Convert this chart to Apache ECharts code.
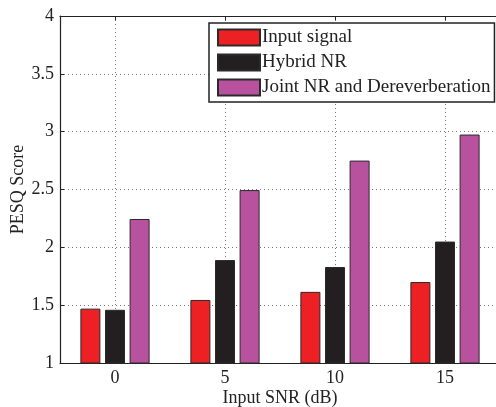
<!DOCTYPE html>
<html>
<head>
<meta charset="utf-8">
<script src="https://cdn.jsdelivr.net/npm/echarts@6/dist/echarts.min.js"></script>
<style>html,body{margin:0;padding:0;background:#fff}#c{width:496px;height:407px}</style>
</head>
<body>
<div id="c"></div>
<script>
const categories = ['0', '5', '10', '15'];
const seriesNames = ['Input signal', 'Hybrid NR', 'Joint NR and Dereverberation'];
const inputSignal = [1.47, 1.545, 1.615, 1.70];
const hybridNR = [1.46, 1.89, 1.83, 2.05];
const jointNRDereverb = [2.245, 2.495, 2.75, 2.975];
const yTicks = [1, 1.5, 2, 2.5, 3, 3.5, 4];

const FONT = 'Liberation Serif';
const colors = ['#ED2024', '#231F20', '#B8529E'];
const values = [inputSignal, hybridNR, jointNRDereverb];

const chart = echarts.init(document.getElementById('c'), null, {renderer: 'canvas'});
chart.setOption({
  animation: false,
  backgroundColor: '#fff',
  textStyle: {fontFamily: FONT},
  grid: {left: 60, top: 16, width: 440, height: 347, containLabel: false, outerBoundsMode: 'none'},
  legend: {
    orient: 'vertical',
    left: 209, top: 23,
    icon: 'rect',
    itemWidth: 42, itemHeight: 16, itemGap: 6,
    padding: [5, 4, 5, 8],
    borderColor: '#222', borderWidth: 1.5,
    backgroundColor: '#fff',
    textStyle: {fontFamily: FONT, fontSize: 19, color: '#222', padding: [0, 0, 0, -3]},
    data: seriesNames
  },
  xAxis: [{
    type: 'category',
    data: categories,
    position: 'bottom',
    axisLine: {show: true, lineStyle: {color: '#222', width: 1.2}},
    axisTick: {show: true, inside: true, alignWithLabel: true, length: 4, lineStyle: {color: '#222'}},
    axisLabel: {fontFamily: FONT, fontSize: 18, color: '#222', margin: 6},
    splitLine: {show: true, alignWithLabel: true, lineStyle: {color: '#777', type: [1, 3], width: 1}},
    name: 'Input SNR (dB)',
    nameLocation: 'middle',
    nameMoveOverlap: false,
    nameGap: 26,
    nameTextStyle: {fontFamily: FONT, fontSize: 18, color: '#222'}
  }, {
    type: 'category',
    data: categories,
    position: 'top',
    axisLine: {show: true, lineStyle: {color: '#222', width: 1.2}},
    axisTick: {show: true, inside: true, alignWithLabel: true, length: 4, lineStyle: {color: '#222'}},
    axisLabel: {show: false},
    splitLine: {show: false}
  }],
  yAxis: {
    type: 'value',
    min: 1, max: 4, interval: 0.5,
    axisLine: {show: true, lineStyle: {color: '#222', width: 1.2}},
    axisTick: {show: true, inside: true, length: 4, lineStyle: {color: '#222'}},
    axisLabel: {fontFamily: FONT, fontSize: 18, color: '#222', margin: 6,
      formatter: v => yTicks.includes(v) ? String(v) : ''},
    splitLine: {show: true, lineStyle: {color: '#777', type: [1, 3], width: 1}},
    name: 'PESQ Score',
    nameLocation: 'middle',
    nameMoveOverlap: false,
    nameGap: 33,
    nameTextStyle: {fontFamily: FONT, fontSize: 18, color: '#222'}
  },
  series: seriesNames.map((n, i) => ({
    name: n,
    type: 'bar',
    xAxisIndex: 0,
    data: values[i],
    barWidth: 20,
    barGap: '23%',
    itemStyle: {color: colors[i], borderColor: '#2a2a2a', borderWidth: 1}
  }))
});
</script>
</body>
</html>
